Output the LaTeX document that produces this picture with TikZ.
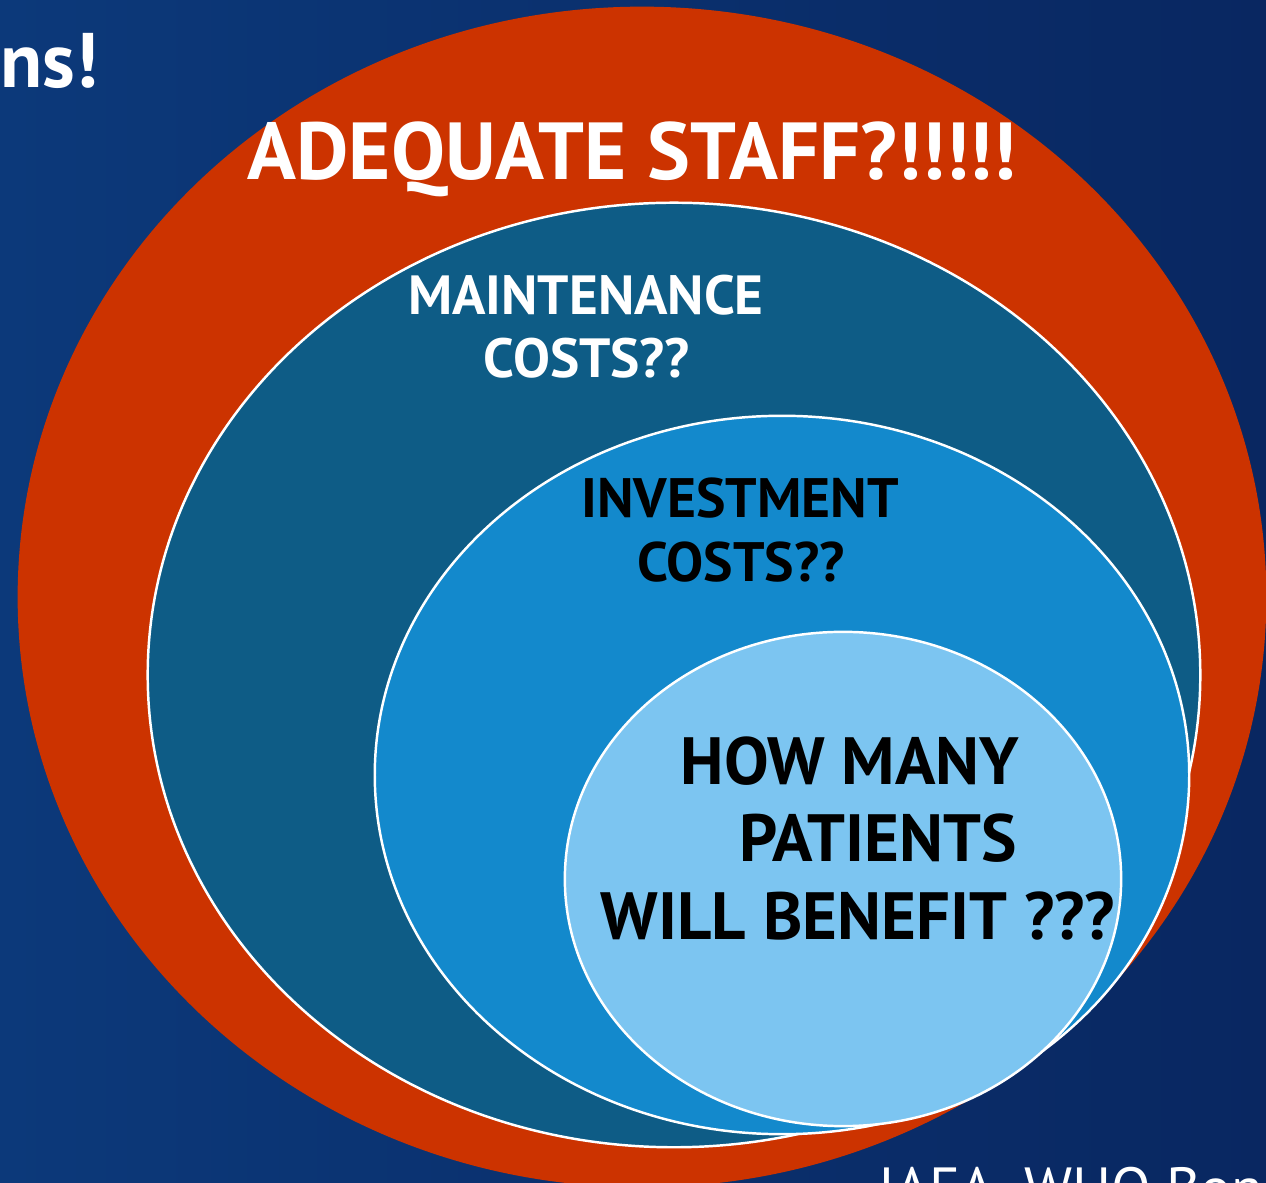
\documentclass[tikz,border=0pt]{standalone}
\usepackage{fontspec}
\setmainfont{PT Sans}
\definecolor{bgleft}{HTML}{0C397A}
\definecolor{bgright}{HTML}{092761}
\definecolor{staffred}{HTML}{CC3300}
\definecolor{maintblue}{HTML}{0E5C86}
\definecolor{investblue}{HTML}{1389CC}
\definecolor{patientblue}{HTML}{7CC5F1}
\tikzset{
	ring/.style={draw=white, line width=0.7pt},
	white label/.style={text=white, font=\bfseries, anchor=base, inner sep=0pt},
	black label/.style={text=black, font=\bfseries, anchor=base, inner sep=0pt}
}
\begin{document}
\begin{tikzpicture}[x=0.01cm, y=-0.01cm]
		\useasboundingbox (0,0) rectangle (1266,1183);
		\clip (0,0) rectangle (1266,1183);
		\shade [left color=bgleft, right color=bgright] (0,0) rectangle (1266,1183);
		\fill [staffred] (642,597) ellipse [x radius=6.24cm, y radius=5.90cm];
		\fill [maintblue, ring] (674,675) ellipse [x radius=5.26cm, y radius=4.72cm];
		\fill [investblue, ring] (782,775) ellipse [x radius=4.07cm, y radius=3.59cm];
		\fill [patientblue, ring] (843,879) ellipse [x radius=2.78cm, y radius=2.47cm];
		\node [white label, font=\fontsize{23}{27}\selectfont\bfseries] (staff) at (632,180) {ADEQUATE STAFF?!!!!!};
		\node [white label, font=\fontsize{15.7}{19}\selectfont\bfseries] (maint1) at (586,315) {MAINTENANCE};
		\node [white label, font=\fontsize{15.7}{19}\selectfont\bfseries] (maint2) at (587,378) {COSTS??};
		\node [black label, font=\fontsize{15.8}{19}\selectfont\bfseries] (invest1) at (740,518) {INVESTMENT};
		\node [black label, font=\fontsize{15.8}{19}\selectfont\bfseries] (invest2) at (741,582) {COSTS??};
		\node [black label, font=\fontsize{19}{23}\selectfont\bfseries] (patients1) at (850,785) {HOW MANY};
		\node [black label, font=\fontsize{19}{23}\selectfont\bfseries] (patients2) at (878,862) {PATIENTS};
		\node [black label, font=\fontsize{19}{23}\selectfont\bfseries] (patients3) at (858,940) {WILL BENEFIT ???};
		\node [text=white, anchor=base west, inner sep=0pt, font=\fontsize{22}{26}\selectfont\bfseries] (title) at (0,88) {ns!};
		\node [text=white, anchor=base west, inner sep=0pt, font=\fontsize{16.5}{20}\selectfont] (source) at (878,1209) {IAEA, WHO Bonn};
\end{tikzpicture}
\end{document}
